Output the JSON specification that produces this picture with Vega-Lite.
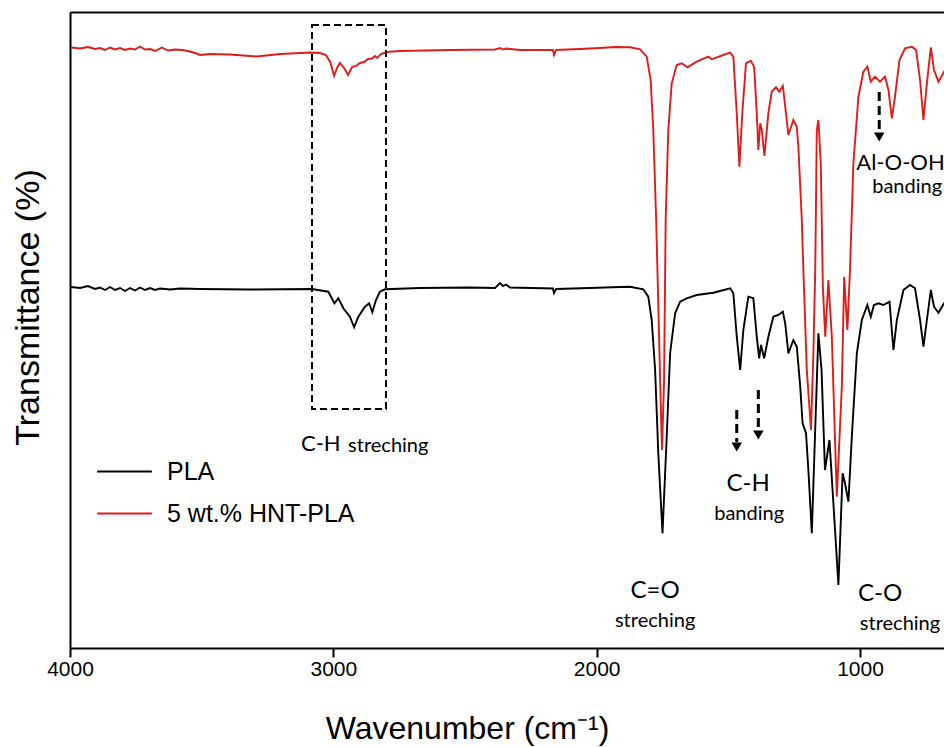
{
  "$schema": "https://vega.github.io/schema/vega-lite/v6.json",
  "width": 874,
  "height": 636,
  "autosize": {"type": "none"},
  "padding": {"left": 70, "top": 12, "right": 0, "bottom": 99},
  "background": "white",
  "config": {"view": {"stroke": null}, "font": "Liberation Sans"},
  "datasets": {
    "spectra": [
      {"s": "PLA", "w": 3996, "T": 361}, {"s": "PLA", "w": 3962, "T": 360}, {"s": "PLA", "w": 3932, "T": 362}, {"s": "PLA", "w": 3905, "T": 359},
      {"s": "PLA", "w": 3886, "T": 360.5}, {"s": "PLA", "w": 3867, "T": 358}, {"s": "PLA", "w": 3848, "T": 361}, {"s": "PLA", "w": 3829, "T": 358},
      {"s": "PLA", "w": 3810, "T": 360}, {"s": "PLA", "w": 3791, "T": 357}, {"s": "PLA", "w": 3772, "T": 360}, {"s": "PLA", "w": 3753, "T": 357.5},
      {"s": "PLA", "w": 3734, "T": 360.5}, {"s": "PLA", "w": 3715, "T": 358}, {"s": "PLA", "w": 3696, "T": 360}, {"s": "PLA", "w": 3677, "T": 358},
      {"s": "PLA", "w": 3658, "T": 359.5}, {"s": "PLA", "w": 3620, "T": 358.5}, {"s": "PLA", "w": 3582, "T": 359.5}, {"s": "PLA", "w": 3506, "T": 359},
      {"s": "PLA", "w": 3316, "T": 358.5}, {"s": "PLA", "w": 3082, "T": 359}, {"s": "PLA", "w": 3019, "T": 356.3}, {"s": "PLA", "w": 2996, "T": 344.7},
      {"s": "PLA", "w": 2981, "T": 349.7}, {"s": "PLA", "w": 2962, "T": 339.7}, {"s": "PLA", "w": 2937, "T": 331.3}, {"s": "PLA", "w": 2921, "T": 320.7},
      {"s": "PLA", "w": 2905, "T": 331.3}, {"s": "PLA", "w": 2880, "T": 341.3}, {"s": "PLA", "w": 2864, "T": 344.7}, {"s": "PLA", "w": 2852, "T": 335.7},
      {"s": "PLA", "w": 2838, "T": 348}, {"s": "PLA", "w": 2823, "T": 356.3}, {"s": "PLA", "w": 2804, "T": 358.7}, {"s": "PLA", "w": 2671, "T": 360},
      {"s": "PLA", "w": 2481, "T": 360.5}, {"s": "PLA", "w": 2386, "T": 360}, {"s": "PLA", "w": 2367, "T": 365}, {"s": "PLA", "w": 2356, "T": 362},
      {"s": "PLA", "w": 2344, "T": 363.5}, {"s": "PLA", "w": 2329, "T": 360.5}, {"s": "PLA", "w": 2166, "T": 359.5}, {"s": "PLA", "w": 2162, "T": 355},
      {"s": "PLA", "w": 2154, "T": 359}, {"s": "PLA", "w": 2025, "T": 360}, {"s": "PLA", "w": 1911, "T": 361}, {"s": "PLA", "w": 1873, "T": 361.3},
      {"s": "PLA", "w": 1823, "T": 358.7}, {"s": "PLA", "w": 1804, "T": 351.3}, {"s": "PLA", "w": 1791, "T": 328}, {"s": "PLA", "w": 1778, "T": 278},
      {"s": "PLA", "w": 1766, "T": 195}, {"s": "PLA", "w": 1750, "T": 114.7}, {"s": "PLA", "w": 1734, "T": 211.3}, {"s": "PLA", "w": 1721, "T": 295},
      {"s": "PLA", "w": 1702, "T": 334.7}, {"s": "PLA", "w": 1683, "T": 346.3}, {"s": "PLA", "w": 1658, "T": 349.7}, {"s": "PLA", "w": 1620, "T": 353},
      {"s": "PLA", "w": 1557, "T": 355.3}, {"s": "PLA", "w": 1493, "T": 359.7}, {"s": "PLA", "w": 1481, "T": 354.7}, {"s": "PLA", "w": 1468, "T": 311.3},
      {"s": "PLA", "w": 1455, "T": 278}, {"s": "PLA", "w": 1443, "T": 318}, {"s": "PLA", "w": 1424, "T": 351.3}, {"s": "PLA", "w": 1405, "T": 349.7},
      {"s": "PLA", "w": 1392, "T": 311.3}, {"s": "PLA", "w": 1383, "T": 289.7}, {"s": "PLA", "w": 1376, "T": 303}, {"s": "PLA", "w": 1364, "T": 289.7},
      {"s": "PLA", "w": 1348, "T": 311.3}, {"s": "PLA", "w": 1329, "T": 331.3}, {"s": "PLA", "w": 1310, "T": 333}, {"s": "PLA", "w": 1293, "T": 336.3},
      {"s": "PLA", "w": 1284, "T": 324.7}, {"s": "PLA", "w": 1272, "T": 294.7}, {"s": "PLA", "w": 1253, "T": 308}, {"s": "PLA", "w": 1240, "T": 301.3},
      {"s": "PLA", "w": 1227, "T": 261.3}, {"s": "PLA", "w": 1218, "T": 224.7}, {"s": "PLA", "w": 1205, "T": 214.7}, {"s": "PLA", "w": 1196, "T": 178},
      {"s": "PLA", "w": 1183, "T": 114.7}, {"s": "PLA", "w": 1171, "T": 211.3}, {"s": "PLA", "w": 1158, "T": 314.7}, {"s": "PLA", "w": 1146, "T": 278},
      {"s": "PLA", "w": 1133, "T": 178}, {"s": "PLA", "w": 1116, "T": 208}, {"s": "PLA", "w": 1101, "T": 144.7}, {"s": "PLA", "w": 1082, "T": 63},
      {"s": "PLA", "w": 1066, "T": 174.7}, {"s": "PLA", "w": 1057, "T": 164.7}, {"s": "PLA", "w": 1044, "T": 146.3}, {"s": "PLA", "w": 1031, "T": 211.3},
      {"s": "PLA", "w": 1012, "T": 294.7}, {"s": "PLA", "w": 993, "T": 328}, {"s": "PLA", "w": 972, "T": 343}, {"s": "PLA", "w": 959, "T": 331.3},
      {"s": "PLA", "w": 947, "T": 343}, {"s": "PLA", "w": 930, "T": 344.7}, {"s": "PLA", "w": 911, "T": 343}, {"s": "PLA", "w": 888, "T": 346.3},
      {"s": "PLA", "w": 873, "T": 298}, {"s": "PLA", "w": 860, "T": 328}, {"s": "PLA", "w": 835, "T": 358}, {"s": "PLA", "w": 810, "T": 363},
      {"s": "PLA", "w": 791, "T": 359.7}, {"s": "PLA", "w": 772, "T": 328}, {"s": "PLA", "w": 759, "T": 301.3}, {"s": "PLA", "w": 746, "T": 328},
      {"s": "PLA", "w": 731, "T": 358}, {"s": "PLA", "w": 719, "T": 341.3}, {"s": "PLA", "w": 702, "T": 335.3}, {"s": "PLA", "w": 681, "T": 344.7},
      {"s": "PLA", "w": 670, "T": 348},

      {"s": "5 wt.% HNT-PLA", "w": 3996, "T": 600.5}, {"s": "5 wt.% HNT-PLA", "w": 3962, "T": 599.5}, {"s": "5 wt.% HNT-PLA", "w": 3932, "T": 601},
      {"s": "5 wt.% HNT-PLA", "w": 3905, "T": 599}, {"s": "5 wt.% HNT-PLA", "w": 3886, "T": 600}, {"s": "5 wt.% HNT-PLA", "w": 3867, "T": 598},
      {"s": "5 wt.% HNT-PLA", "w": 3848, "T": 600.5}, {"s": "5 wt.% HNT-PLA", "w": 3829, "T": 598.5}, {"s": "5 wt.% HNT-PLA", "w": 3810, "T": 600},
      {"s": "5 wt.% HNT-PLA", "w": 3791, "T": 598}, {"s": "5 wt.% HNT-PLA", "w": 3772, "T": 599.5}, {"s": "5 wt.% HNT-PLA", "w": 3753, "T": 598.5},
      {"s": "5 wt.% HNT-PLA", "w": 3734, "T": 601.5}, {"s": "5 wt.% HNT-PLA", "w": 3715, "T": 598.5}, {"s": "5 wt.% HNT-PLA", "w": 3696, "T": 599},
      {"s": "5 wt.% HNT-PLA", "w": 3677, "T": 597}, {"s": "5 wt.% HNT-PLA", "w": 3651, "T": 600.5}, {"s": "5 wt.% HNT-PLA", "w": 3628, "T": 597.5},
      {"s": "5 wt.% HNT-PLA", "w": 3601, "T": 598.5}, {"s": "5 wt.% HNT-PLA", "w": 3575, "T": 598}, {"s": "5 wt.% HNT-PLA", "w": 3552, "T": 597},
      {"s": "5 wt.% HNT-PLA", "w": 3525, "T": 595}, {"s": "5 wt.% HNT-PLA", "w": 3506, "T": 593}, {"s": "5 wt.% HNT-PLA", "w": 3468, "T": 594},
      {"s": "5 wt.% HNT-PLA", "w": 3392, "T": 593.5}, {"s": "5 wt.% HNT-PLA", "w": 3290, "T": 591.5}, {"s": "5 wt.% HNT-PLA", "w": 3202, "T": 594},
      {"s": "5 wt.% HNT-PLA", "w": 3088, "T": 595.5}, {"s": "5 wt.% HNT-PLA", "w": 3051, "T": 595}, {"s": "5 wt.% HNT-PLA", "w": 3028, "T": 593},
      {"s": "5 wt.% HNT-PLA", "w": 3012, "T": 586}, {"s": "5 wt.% HNT-PLA", "w": 2997, "T": 572}, {"s": "5 wt.% HNT-PLA", "w": 2986, "T": 580},
      {"s": "5 wt.% HNT-PLA", "w": 2975, "T": 585}, {"s": "5 wt.% HNT-PLA", "w": 2959, "T": 580}, {"s": "5 wt.% HNT-PLA", "w": 2944, "T": 573},
      {"s": "5 wt.% HNT-PLA", "w": 2929, "T": 581}, {"s": "5 wt.% HNT-PLA", "w": 2914, "T": 582}, {"s": "5 wt.% HNT-PLA", "w": 2899, "T": 585},
      {"s": "5 wt.% HNT-PLA", "w": 2883, "T": 586}, {"s": "5 wt.% HNT-PLA", "w": 2868, "T": 589}, {"s": "5 wt.% HNT-PLA", "w": 2853, "T": 589.5},
      {"s": "5 wt.% HNT-PLA", "w": 2842, "T": 592}, {"s": "5 wt.% HNT-PLA", "w": 2834, "T": 590}, {"s": "5 wt.% HNT-PLA", "w": 2819, "T": 594},
      {"s": "5 wt.% HNT-PLA", "w": 2796, "T": 596}, {"s": "5 wt.% HNT-PLA", "w": 2747, "T": 597}, {"s": "5 wt.% HNT-PLA", "w": 2557, "T": 598},
      {"s": "5 wt.% HNT-PLA", "w": 2386, "T": 598.5}, {"s": "5 wt.% HNT-PLA", "w": 2367, "T": 600}, {"s": "5 wt.% HNT-PLA", "w": 2356, "T": 598.5},
      {"s": "5 wt.% HNT-PLA", "w": 2344, "T": 599.5}, {"s": "5 wt.% HNT-PLA", "w": 2291, "T": 598}, {"s": "5 wt.% HNT-PLA", "w": 2166, "T": 598},
      {"s": "5 wt.% HNT-PLA", "w": 2162, "T": 593}, {"s": "5 wt.% HNT-PLA", "w": 2154, "T": 598}, {"s": "5 wt.% HNT-PLA", "w": 2063, "T": 599},
      {"s": "5 wt.% HNT-PLA", "w": 1987, "T": 600}, {"s": "5 wt.% HNT-PLA", "w": 1930, "T": 601}, {"s": "5 wt.% HNT-PLA", "w": 1873, "T": 600.7},
      {"s": "5 wt.% HNT-PLA", "w": 1835, "T": 598.7}, {"s": "5 wt.% HNT-PLA", "w": 1810, "T": 591.3}, {"s": "5 wt.% HNT-PLA", "w": 1795, "T": 568},
      {"s": "5 wt.% HNT-PLA", "w": 1785, "T": 518}, {"s": "5 wt.% HNT-PLA", "w": 1774, "T": 428}, {"s": "5 wt.% HNT-PLA", "w": 1757, "T": 248},
      {"s": "5 wt.% HNT-PLA", "w": 1752, "T": 198}, {"s": "5 wt.% HNT-PLA", "w": 1744, "T": 268}, {"s": "5 wt.% HNT-PLA", "w": 1738, "T": 428},
      {"s": "5 wt.% HNT-PLA", "w": 1728, "T": 518}, {"s": "5 wt.% HNT-PLA", "w": 1715, "T": 564.7}, {"s": "5 wt.% HNT-PLA", "w": 1696, "T": 583},
      {"s": "5 wt.% HNT-PLA", "w": 1677, "T": 584.7}, {"s": "5 wt.% HNT-PLA", "w": 1655, "T": 580.7}, {"s": "5 wt.% HNT-PLA", "w": 1620, "T": 586.3},
      {"s": "5 wt.% HNT-PLA", "w": 1576, "T": 591.3}, {"s": "5 wt.% HNT-PLA", "w": 1563, "T": 588.7}, {"s": "5 wt.% HNT-PLA", "w": 1519, "T": 593},
      {"s": "5 wt.% HNT-PLA", "w": 1493, "T": 595.3}, {"s": "5 wt.% HNT-PLA", "w": 1481, "T": 591.3}, {"s": "5 wt.% HNT-PLA", "w": 1468, "T": 534.7},
      {"s": "5 wt.% HNT-PLA", "w": 1458, "T": 481.3}, {"s": "5 wt.% HNT-PLA", "w": 1447, "T": 534.7}, {"s": "5 wt.% HNT-PLA", "w": 1433, "T": 584.7},
      {"s": "5 wt.% HNT-PLA", "w": 1415, "T": 587.3}, {"s": "5 wt.% HNT-PLA", "w": 1402, "T": 581.3}, {"s": "5 wt.% HNT-PLA", "w": 1392, "T": 534.7},
      {"s": "5 wt.% HNT-PLA", "w": 1386, "T": 498}, {"s": "5 wt.% HNT-PLA", "w": 1379, "T": 524.7}, {"s": "5 wt.% HNT-PLA", "w": 1373, "T": 518},
      {"s": "5 wt.% HNT-PLA", "w": 1363, "T": 492}, {"s": "5 wt.% HNT-PLA", "w": 1348, "T": 534.7}, {"s": "5 wt.% HNT-PLA", "w": 1335, "T": 556.3},
      {"s": "5 wt.% HNT-PLA", "w": 1319, "T": 560.7}, {"s": "5 wt.% HNT-PLA", "w": 1306, "T": 556.3}, {"s": "5 wt.% HNT-PLA", "w": 1293, "T": 562},
      {"s": "5 wt.% HNT-PLA", "w": 1281, "T": 534.7}, {"s": "5 wt.% HNT-PLA", "w": 1272, "T": 513}, {"s": "5 wt.% HNT-PLA", "w": 1253, "T": 528},
      {"s": "5 wt.% HNT-PLA", "w": 1240, "T": 521.3}, {"s": "5 wt.% HNT-PLA", "w": 1234, "T": 501.3}, {"s": "5 wt.% HNT-PLA", "w": 1221, "T": 428},
      {"s": "5 wt.% HNT-PLA", "w": 1215, "T": 378}, {"s": "5 wt.% HNT-PLA", "w": 1202, "T": 278}, {"s": "5 wt.% HNT-PLA", "w": 1186, "T": 218},
      {"s": "5 wt.% HNT-PLA", "w": 1177, "T": 295}, {"s": "5 wt.% HNT-PLA", "w": 1170, "T": 378}, {"s": "5 wt.% HNT-PLA", "w": 1164, "T": 518},
      {"s": "5 wt.% HNT-PLA", "w": 1158, "T": 528}, {"s": "5 wt.% HNT-PLA", "w": 1149, "T": 485}, {"s": "5 wt.% HNT-PLA", "w": 1141, "T": 361.3},
      {"s": "5 wt.% HNT-PLA", "w": 1132, "T": 311.3}, {"s": "5 wt.% HNT-PLA", "w": 1120, "T": 368}, {"s": "5 wt.% HNT-PLA", "w": 1107, "T": 311.3},
      {"s": "5 wt.% HNT-PLA", "w": 1088, "T": 151.3}, {"s": "5 wt.% HNT-PLA", "w": 1069, "T": 261.3}, {"s": "5 wt.% HNT-PLA", "w": 1060, "T": 371.3},
      {"s": "5 wt.% HNT-PLA", "w": 1048, "T": 318}, {"s": "5 wt.% HNT-PLA", "w": 1038, "T": 378}, {"s": "5 wt.% HNT-PLA", "w": 1025, "T": 485},
      {"s": "5 wt.% HNT-PLA", "w": 1006, "T": 551.3}, {"s": "5 wt.% HNT-PLA", "w": 987, "T": 576.3}, {"s": "5 wt.% HNT-PLA", "w": 972, "T": 581.3},
      {"s": "5 wt.% HNT-PLA", "w": 959, "T": 566.3}, {"s": "5 wt.% HNT-PLA", "w": 943, "T": 571.3}, {"s": "5 wt.% HNT-PLA", "w": 924, "T": 566.3},
      {"s": "5 wt.% HNT-PLA", "w": 905, "T": 571.3}, {"s": "5 wt.% HNT-PLA", "w": 892, "T": 558}, {"s": "5 wt.% HNT-PLA", "w": 879, "T": 529.7},
      {"s": "5 wt.% HNT-PLA", "w": 867, "T": 551.3}, {"s": "5 wt.% HNT-PLA", "w": 850, "T": 588}, {"s": "5 wt.% HNT-PLA", "w": 829, "T": 599.7},
      {"s": "5 wt.% HNT-PLA", "w": 803, "T": 601.3}, {"s": "5 wt.% HNT-PLA", "w": 787, "T": 598}, {"s": "5 wt.% HNT-PLA", "w": 772, "T": 568},
      {"s": "5 wt.% HNT-PLA", "w": 759, "T": 528}, {"s": "5 wt.% HNT-PLA", "w": 746, "T": 564.7}, {"s": "5 wt.% HNT-PLA", "w": 731, "T": 600.7},
      {"s": "5 wt.% HNT-PLA", "w": 719, "T": 578}, {"s": "5 wt.% HNT-PLA", "w": 702, "T": 566.3}, {"s": "5 wt.% HNT-PLA", "w": 681, "T": 576.3},
      {"s": "5 wt.% HNT-PLA", "w": 670, "T": 572}
    ],
    "box": [{"w1": 3081, "w2": 2800, "T": 239, "T2": 623}],
    "arrowShafts": [
      {"w": 1468, "T": 238, "T2": 206},
      {"w": 1386, "T": 258, "T2": 218},
      {"w": 927, "T": 556, "T2": 516}
    ],
    "arrowHeads": [
      {"w": 1468, "T": 201},
      {"w": 1386, "T": 213},
      {"w": 927, "T": 511}
    ],
    "bigCentered": [
      {"label": "C-H", "w": 1425, "T": 164},
      {"label": "C=O", "w": 1778, "T": 57},
      {"label": "C-O", "w": 924, "T": 54}
    ],
    "bigLeft": [
      {"label": "C-H", "w": 3123, "T": 204},
      {"label": "Al-O-OH", "w": 1014, "T": 485}
    ],
    "smallCentered": [
      {"label": "banding", "w": 1421, "T": 134},
      {"label": "streching", "w": 1778, "T": 27},
      {"label": "streching", "w": 848, "T": 24},
      {"label": "banding", "w": 821, "T": 461}
    ],
    "smallLeft": [
      {"label": "streching", "w": 2944, "T": 202}
    ]
  },
  "layer": [
    {
      "data": {"name": "spectra"},
      "mark": {"type": "line", "strokeWidth": 1.9, "clip": true},
      "encoding": {
        "x": {
          "field": "w", "type": "quantitative",
          "scale": {"domain": [681, 4000], "reverse": true, "nice": false, "zero": false},
          "axis": {
            "orient": "bottom", "values": [4000, 3000, 2000, 1000], "format": "d",
            "tickSize": 9, "tickWidth": 2, "tickColor": "black",
            "domainColor": "black", "domainWidth": 2, "grid": false,
            "labelFont": "Liberation Sans", "labelFontSize": 21, "labelColor": "black",
            "labelPadding": 1, "labelFlush": false, "labelOverlap": false,
            "title": "Wavenumber (cm⁻¹)", "titleFont": "Liberation Sans", "titleFontSize": 32,
            "titleFontWeight": "normal", "titleColor": "black",
            "titleX": 397, "titleY": 80, "titleAlign": "center", "titleBaseline": "middle"
          }
        },
        "y": {
          "field": "T", "type": "quantitative",
          "scale": {"domain": [0, 636], "nice": false, "zero": false},
          "axis": {
            "orient": "left", "labels": false, "ticks": false, "grid": false,
            "domainColor": "black", "domainWidth": 2,
            "title": "Transmittance (%)", "titleFont": "Liberation Sans", "titleFontSize": 34,
            "titleFontWeight": "normal", "titleColor": "black",
            "titleX": -42, "titleY": 295, "titleAngle": 270, "titleAlign": "center", "titleBaseline": "middle"
          }
        },
        "color": {
          "field": "s", "type": "nominal",
          "scale": {"domain": ["PLA", "5 wt.% HNT-PLA"], "range": ["#000000", "#dd1c1c"]},
          "legend": {
            "orient": "none", "legendX": 26, "legendY": 431, "title": null,
            "symbolType": "stroke", "symbolSize": 3000, "symbolStrokeWidth": 2,
            "labelFont": "Liberation Sans", "labelFontSize": 25, "labelColor": "black", "labelLimit": 400,
            "labelOffset": 14, "rowPadding": -9.5, "padding": 0
          }
        }
      }
    },
    {
      "data": {"name": "box"},
      "mark": {"type": "rect", "fill": null, "fillOpacity": 0, "stroke": "black", "strokeWidth": 2, "strokeDash": [7, 4]},
      "encoding": {
        "x": {
          "field": "w1", "type": "quantitative",
          "scale": {"domain": [681, 4000], "reverse": true, "nice": false, "zero": false},
          "axis": {"orient": "top", "labels": false, "ticks": false, "grid": false, "domainColor": "black", "domainWidth": 2, "title": null}
        },
        "x2": {"field": "w2"},
        "y": {"field": "T", "type": "quantitative", "scale": {"domain": [0, 636], "nice": false, "zero": false}, "axis": null},
        "y2": {"field": "T2"}
      }
    },
    {
      "data": {"name": "arrowShafts"},
      "mark": {"type": "rule", "color": "black", "strokeWidth": 3, "strokeDash": [9, 5]},
      "encoding": {
        "x": {"field": "w", "type": "quantitative", "scale": {"domain": [681, 4000], "reverse": true, "nice": false, "zero": false}, "axis": null},
        "y": {"field": "T", "type": "quantitative", "scale": {"domain": [0, 636], "nice": false, "zero": false}, "axis": null},
        "y2": {"field": "T2"}
      }
    },
    {
      "data": {"name": "arrowHeads"},
      "mark": {"type": "point", "shape": "triangle-down", "filled": true, "color": "black", "size": 110, "opacity": 1},
      "encoding": {
        "x": {"field": "w", "type": "quantitative", "scale": {"domain": [681, 4000], "reverse": true, "nice": false, "zero": false}, "axis": null},
        "y": {"field": "T", "type": "quantitative", "scale": {"domain": [0, 636], "nice": false, "zero": false}, "axis": null}
      }
    },
    {
      "data": {"name": "bigCentered"},
      "mark": {"type": "text", "font": "Lato", "fontSize": 24, "align": "center", "baseline": "middle", "color": "black"},
      "encoding": {
        "x": {"field": "w", "type": "quantitative", "scale": {"domain": [681, 4000], "reverse": true, "nice": false, "zero": false}, "axis": null},
        "y": {"field": "T", "type": "quantitative", "scale": {"domain": [0, 636], "nice": false, "zero": false}, "axis": null},
        "text": {"field": "label"}
      }
    },
    {
      "data": {"name": "bigLeft"},
      "mark": {"type": "text", "font": "Lato", "fontSize": 22, "align": "left", "baseline": "middle", "color": "black"},
      "encoding": {
        "x": {"field": "w", "type": "quantitative", "scale": {"domain": [681, 4000], "reverse": true, "nice": false, "zero": false}, "axis": null},
        "y": {"field": "T", "type": "quantitative", "scale": {"domain": [0, 636], "nice": false, "zero": false}, "axis": null},
        "text": {"field": "label"}
      }
    },
    {
      "data": {"name": "smallCentered"},
      "mark": {"type": "text", "font": "Lato", "fontSize": 20, "align": "center", "baseline": "middle", "color": "black"},
      "encoding": {
        "x": {"field": "w", "type": "quantitative", "scale": {"domain": [681, 4000], "reverse": true, "nice": false, "zero": false}, "axis": null},
        "y": {"field": "T", "type": "quantitative", "scale": {"domain": [0, 636], "nice": false, "zero": false}, "axis": null},
        "text": {"field": "label"}
      }
    },
    {
      "data": {"name": "smallLeft"},
      "mark": {"type": "text", "font": "Lato", "fontSize": 20, "align": "left", "baseline": "middle", "color": "black"},
      "encoding": {
        "x": {"field": "w", "type": "quantitative", "scale": {"domain": [681, 4000], "reverse": true, "nice": false, "zero": false}, "axis": null},
        "y": {"field": "T", "type": "quantitative", "scale": {"domain": [0, 636], "nice": false, "zero": false}, "axis": null},
        "text": {"field": "label"}
      }
    }
  ],
  "resolve": {"axis": {"x": "independent", "y": "independent"}}
}
